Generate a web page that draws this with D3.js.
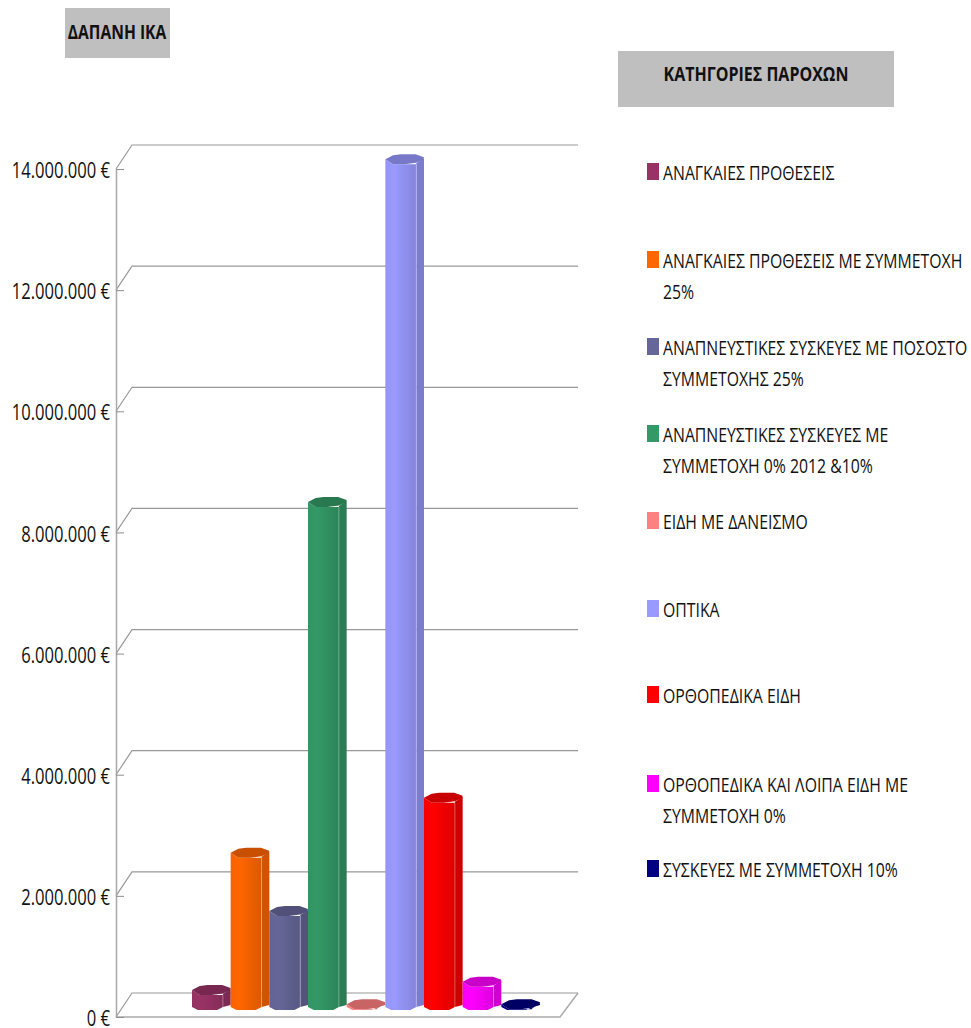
<!DOCTYPE html>
<html lang="el">
<head>
<meta charset="utf-8">
<script src="https://cdn.jsdelivr.net/npm/d3@7/dist/d3.min.js"></script>
<style>
  html, body { margin: 0; padding: 0; background: #fff; }
  svg { display: block; }
  text { font-family: "Open Sans", "Noto Sans", sans-serif; fill: #111; }
</style>
</head>
<body>
<svg id="chart" width="971" height="1028"></svg>
<script>
// Spending per benefit category
const categories = [
  "ΑΝΑΓΚΑΙΕΣ ΠΡΟΘΕΣΕΙΣ",
  "ΑΝΑΓΚΑΙΕΣ ΠΡΟΘΕΣΕΙΣ ΜΕ ΣΥΜΜΕΤΟΧΗ 25%",
  "ΑΝΑΠΝΕΥΣΤΙΚΕΣ ΣΥΣΚΕΥΕΣ ΜΕ ΠΟΣΟΣΤΟ ΣΥΜΜΕΤΟΧΗΣ 25%",
  "ΑΝΑΠΝΕΥΣΤΙΚΕΣ ΣΥΣΚΕΥΕΣ ΜΕ ΣΥΜΜΕΤΟΧΗ 0% 2012 &10%",
  "ΕΙΔΗ ΜΕ ΔΑΝΕΙΣΜΟ",
  "ΟΠΤΙΚΑ",
  "ΟΡΘΟΠΕΔΙΚΑ ΕΙΔΗ",
  "ΟΡΘΟΠΕΔΙΚΑ ΚΑΙ ΛΟΙΠΑ ΕΙΔΗ ΜΕ ΣΥΜΜΕΤΟΧΗ 0%",
  "ΣΥΣΚΕΥΕΣ ΜΕ ΣΥΜΜΕΤΟΧΗ 10%"
];
const values = [265000, 2530000, 1570000, 8320000, 30000, 13980000, 3440000, 400000, 30000];
const palette = ["#993366", "#FF6600", "#666699", "#339966", "#FF8080", "#9999FF", "#FF0000", "#FF00FF", "#000080"];
const tickValues = [0, 2000000, 4000000, 6000000, 8000000, 10000000, 12000000, 14000000];

// Legend wrapping and the vertical slot of every text line
const legendLines = [
  ["ΑΝΑΓΚΑΙΕΣ ΠΡΟΘΕΣΕΙΣ"],
  ["ΑΝΑΓΚΑΙΕΣ ΠΡΟΘΕΣΕΙΣ ΜΕ ΣΥΜΜΕΤΟΧΗ", "25%"],
  ["ΑΝΑΠΝΕΥΣΤΙΚΕΣ ΣΥΣΚΕΥΕΣ ΜΕ ΠΟΣΟΣΤΟ", "ΣΥΜΜΕΤΟΧΗΣ 25%"],
  ["ΑΝΑΠΝΕΥΣΤΙΚΕΣ ΣΥΣΚΕΥΕΣ ΜΕ", "ΣΥΜΜΕΤΟΧΗ 0% 2012 &10%"],
  ["ΕΙΔΗ ΜΕ ΔΑΝΕΙΣΜΟ"],
  ["ΟΠΤΙΚΑ"],
  ["ΟΡΘΟΠΕΔΙΚΑ ΕΙΔΗ"],
  ["ΟΡΘΟΠΕΔΙΚΑ ΚΑΙ ΛΟΙΠΑ ΕΙΔΗ ΜΕ", "ΣΥΜΜΕΤΟΧΗ 0%"],
  ["ΣΥΣΚΕΥΕΣ ΜΕ ΣΥΜΜΕΤΟΧΗ 10%"]
];
const legendY = [172, 260, 347, 434, 521, 609, 695, 784, 869];

const svg = d3.select("#chart");
const defs = svg.append("defs");

const y = d3.scaleLinear().domain([0, 14000000]).range([1017, 169]);
const x = d3.scaleBand().domain(categories).range([192, 540]);

// Pseudo-3D box: the wall sits up and to the right of the front axis
const axisX = 116, wallDX = 16, wallDY = 24, floorRight = 560, barLift = 11;
const gridColor = "#999";

const locale = d3.formatLocale({ decimal: ",", thousands: ".", grouping: [3], currency: ["", "€"] });
const money = v => locale.format(",")(v) + " €";

// Horizontally condensed text, anchored at (px, py)
const condense = (sel, px, py, sx) =>
  sel.attr("x", 0).attr("y", 0).attr("transform", `translate(${px},${py}) scale(${sx},1)`);

// Back wall gridlines with their short returns to the front axis
const grid = svg.append("g").attr("fill", "none").attr("stroke", gridColor).attr("stroke-width", 1.2);
grid.selectAll("path.grid").data(tickValues).join("path")
  .attr("class", "grid")
  .attr("d", v => d3.line()([[axisX, y(v)], [axisX + wallDX, y(v) - wallDY], [floorRight + 18, y(v) - wallDY]]));

grid.append("path")
  .attr("d", d3.line()([[axisX, y(0)], [floorRight, y(0)], [floorRight + 18, y(0) - wallDY]]))
  .attr("stroke-width", 1.5).attr("stroke", "#aaa");

// Value axis
const axis = svg.append("g")
  .attr("transform", `translate(${axisX},0)`)
  .call(d3.axisLeft(y).tickValues(tickValues).tickFormat(money).tickSizeInner(-8).tickSizeOuter(0).tickPadding(6));
axis.select(".domain").attr("stroke", "#a8a8a8").attr("stroke-width", 1.5);
axis.selectAll(".tick line").attr("stroke", "#8f8f8f");
axis.selectAll(".tick text")
  .style("font-size", "21px")
  .attr("font-family", null)
  .attr("dy", "0.36em")
  .attr("fill", "#111")
  .call(condense, -6, 1, 0.79);

// Front shading of a column, dimming toward its right edge
palette.forEach((c, i) => {
  const g = defs.append("linearGradient").attr("id", "front" + i);
  const stops = [[0, d3.color(c).darker(0.08)], [0.3, d3.color(c)], [1, d3.color(c).darker(0.42)]];
  g.selectAll("stop").data(stops).join("stop")
    .attr("offset", d => d[0]).attr("stop-color", d => d[1].formatHex());
});

// Columns: faceted prisms with a darker right face and a darker lid
const bars = svg.append("g").selectAll("g").data(categories).join("g");
bars.each(function (cat, i) {
  const g = d3.select(this);
  const w = x.bandwidth();
  const x0 = x(cat);
  const c = palette[i];
  const base = y(0) - barLift;
  const top = y(values[i]) - barLift;
  const p = t => x0 + t * w;
  const line = d3.line();

  // Right-hand face
  g.append("path").attr("fill", d3.color(c).darker(0.58).formatHex())
    .attr("d", line([[p(0.8), top + 4], [p(1), top - 1], [p(1), base - 1], [p(0.8), base + 1]]) + "Z");
  // Front face
  g.append("path").attr("fill", `url(#front${i})`)
    .attr("d", line([[p(0), top], [p(0.2), top + 5], [p(0.8), top + 5], [p(0.8), base + 1],
                     [p(0.65), base + 4], [p(0.15), base + 4], [p(0), base + 1]]) + "Z");
  // Facet highlight
  g.append("line").attr("x1", p(0.8)).attr("x2", p(0.8)).attr("y1", top + 5).attr("y2", base + 1)
    .attr("stroke", "#fff").attr("stroke-opacity", 0.3);
  // Lid
  g.append("path").attr("fill", d3.color(c).darker(0.68).formatHex())
    .attr("d", line([[p(0), top], [p(0.2), top - 4], [p(0.4), top - 5], [p(0.78), top - 5], [p(1), top - 2],
                     [p(0.98), top + 0.5], [p(0.8), top + 3.5], [p(0.5), top + 5], [p(0.2), top + 5]]) + "Z");
});

// Boxed headings
const headings = [
  { text: "ΔΑΠΑΝΗ ΙΚΑ", box: [65, 8, 105, 50], cx: 117, cy: 31, squeeze: 0.78 },
  { text: "ΚΑΤΗΓΟΡΙΕΣ ΠΑΡΟΧΩΝ", box: [618, 51, 276, 56], cx: 756, cy: 73, squeeze: 0.8 }
];
const head = svg.append("g").selectAll("g").data(headings).join("g");
head.append("rect")
  .attr("x", d => d.box[0]).attr("y", d => d.box[1])
  .attr("width", d => d.box[2]).attr("height", d => d.box[3])
  .attr("fill", "#bfbfbf");
head.append("text")
  .attr("text-anchor", "middle").attr("dominant-baseline", "central")
  .attr("font-weight", "bold").style("font-size", "20px")
  .text(d => d.text)
  .each(function (d) { condense(d3.select(this), d.cx, d.cy, d.squeeze); });

// Legend
const legend = svg.append("g").selectAll("g").data(categories).join("g");
legend.append("rect")
  .attr("x", 647).attr("width", 12)
  .attr("y", (d, i) => legendY[i] - 9).attr("height", 17)
  .attr("fill", (d, i) => palette[i]);
legend.each(function (d, i) {
  d3.select(this).selectAll("text").data(legendLines[i]).join("text")
    .attr("dominant-baseline", "central")
    .style("font-size", "20px")
    .text(t => t)
    .each(function (t, k) { condense(d3.select(this), 663, legendY[i] + k * 31, 0.79); });
});
</script>
</body>
</html>
